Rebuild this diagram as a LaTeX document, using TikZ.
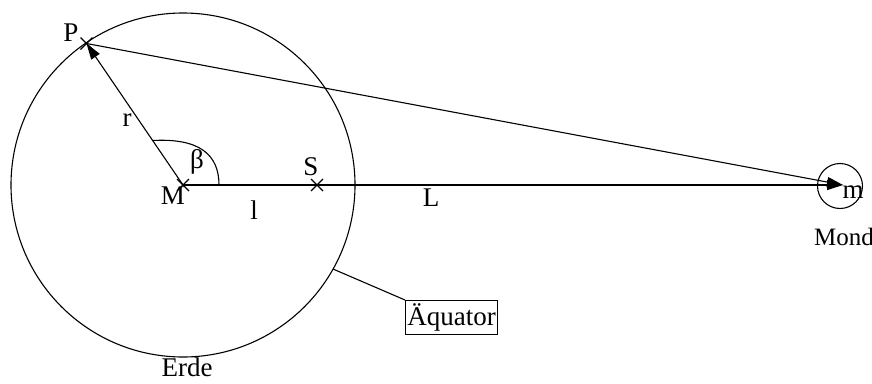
\documentclass[tikz,border=0pt]{standalone}
\usepackage{fontspec}
\setmainfont{Liberation Serif}
\usetikzlibrary{arrows.meta,calc}
\begin{document}
\begin{tikzpicture}[x=1pt,y=-1pt,
  line/.style={line width=1.1pt},
  tip/.style={-{Triangle[length=16pt,width=10pt]}},
  lbl/.style={inner sep=0pt,font=\fontsize{27}{30}\selectfont},
  small/.style={inner sep=0pt,font=\fontsize{25}{28}\selectfont},
  crossmark/.style={line width=1.1pt}]
\useasboundingbox (0,0) rectangle (872,383);
% key points
\coordinate (M) at (183,185);
\coordinate (P) at (86.5,43.5);
\coordinate (S) at (317,185);
\coordinate (T) at (843,185);
\coordinate (Eq) at (333,269);
% earth and moon
\node[draw,line width=1.1pt,circle,minimum size=344pt,inner sep=0pt] (earth) at (M) {};
\node[draw,line width=1.1pt,circle,minimum size=45pt,inner sep=0pt] (moon) at (840,186) {};
% connectors
\draw[line,tip] (M) -- (P);
\draw[line,tip] (P) -- (T);
\draw[line,tip] (M) -- (T);
% crosses
\foreach \c in {M,S,P}{
  \draw[crossmark] ($(\c)+(-6,-6)$) -- ($(\c)+(6,6)$);
  \draw[crossmark] ($(\c)+(-6,6)$) -- ($(\c)+(6,-6)$);
}
% angle arc
\coordinate (A1) at (153,140.5);
\coordinate (A2) at (219,185);
\draw[line] (A1) .. controls (200,138) and (219,155) .. (A2);
% labels
\node[lbl] (lP) at (71,33) {P};
\node[lbl] (lr) at (127,120) {r};
\node[lbl] (lb) at (197,162) {β};
\node[lbl] (lM) at (173,196) {M};
\node[lbl] (ll) at (254,210) {l};
\node[lbl] (lS) at (311,167) {S};
\node[lbl] (lL) at (431,198) {L};
\node[lbl] (lm) at (853,192) {m};
\node[small,anchor=west] (lMond) at (814,237) {Mond};
\node[lbl] (lErde) at (187,367) {Erde};
\node[draw,line width=1.1pt,lbl,minimum width=92pt,minimum height=34pt,anchor=north west] (box) at (405,300) {Äquator};
\draw[line] (Eq) -- (box.north west);
\end{tikzpicture}
\end{document}
